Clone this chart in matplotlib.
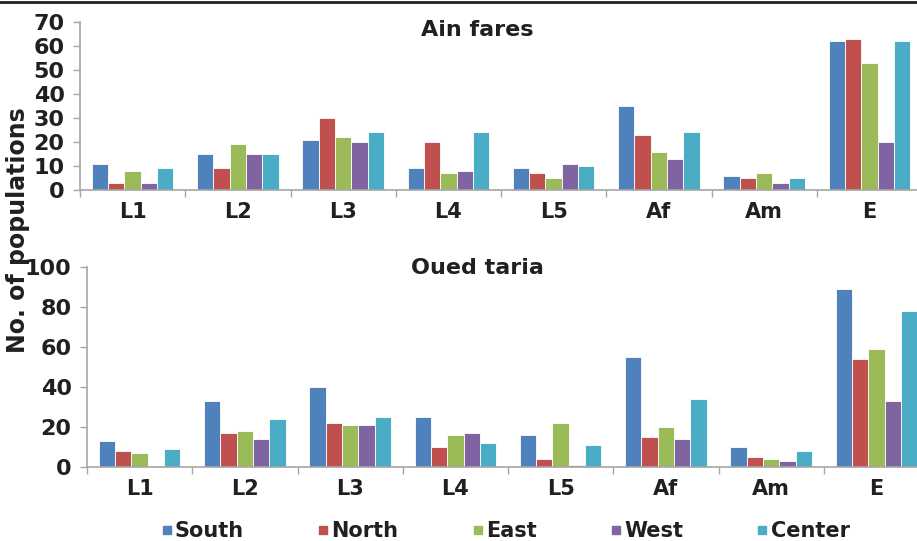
import numpy as np
import matplotlib.pyplot as plt
from matplotlib.lines import Line2D

plt.rcParams["font.family"] = ["DejaVu Sans"]
plt.rcParams["font.weight"] = "bold"

# ============================================================
# Data
# ============================================================
categories = ["L1", "L2", "L3", "L4", "L5", "Af", "Am", "E"]
regions = ["South", "North", "East", "West", "Center"]
colors = ["#4F81BD", "#C0504D", "#9BBB59", "#8064A2", "#4BACC6"]

# Ain fares
ain_south = [11, 15, 21, 9, 9, 35, 6, 62]
ain_north = [3, 9, 30, 20, 7, 23, 5, 63]
ain_east = [8, 19, 22, 7, 5, 16, 7, 53]
ain_west = [3, 15, 20, 8, 11, 13, 3, 20]
ain_center = [9, 15, 24, 24, 10, 24, 5, 62]

# Oued taria
oued_south = [13, 33, 40, 25, 16, 55, 10, 89]
oued_north = [8, 17, 22, 10, 4, 15, 5, 54]
oued_east = [7, 18, 21, 16, 22, 20, 4, 59]
oued_west = [0, 14, 21, 17, 1, 14, 3, 33]
oued_center = [9, 24, 25, 12, 11, 34, 8, 78]

TXT = "#231F20"
AXC = "#A6A6A6"

fig = plt.figure(figsize=(9.17, 5.41), dpi=100)

ax_top = fig.add_axes([80 / 917, 351 / 541, 842 / 917, 168 / 541])
ax_bot = fig.add_axes([87 / 917, 74.3 / 541, 842 / 917, 199.4 / 541])


def draw_panel(ax, series, ymax, step):
    x = np.arange(len(categories)) + 0.5
    w = 0.155
    for j, vals in enumerate(series):
        ax.bar(x + (j - 2) * w, vals, width=w, color=colors[j],
               edgecolor="white", linewidth=0.6, label=regions[j])
    ax.set_xlim(0, len(categories))
    ax.set_ylim(0, ymax)
    ax.set_yticks(np.arange(0, ymax + 1, step))
    ax.set_xticks(x)
    ax.set_xticklabels(categories)
    ax.set_xticks(np.arange(0, len(categories) + 1), minor=True)
    ax.tick_params(axis="x", which="major", length=0, pad=9,
                   labelsize=15, labelcolor=TXT)
    ax.tick_params(axis="x", which="minor", length=5, color=AXC, width=1)
    ax.tick_params(axis="y", length=5, color=AXC, width=1, pad=6,
                   labelsize=16, labelcolor=TXT)
    for s in ["top", "right"]:
        ax.spines[s].set_visible(False)
    for s in ["left", "bottom"]:
        ax.spines[s].set_color(AXC)
        ax.spines[s].set_linewidth(1.2)


draw_panel(ax_top, [ain_south, ain_north, ain_east, ain_west, ain_center], 70, 10)
draw_panel(ax_bot, [oued_south, oued_north, oued_east, oued_west, oued_center], 100, 20)

fig.text(477 / 917, 1 - 30 / 541, "Ain fares", ha="center", va="center",
         fontsize=16, color=TXT)
fig.text(477 / 917, 1 - 268 / 541, "Oued taria", ha="center", va="center",
         fontsize=16, color=TXT)
fig.text(18 / 917, 1 - 230 / 541, "No. of populations", rotation=90,
         ha="center", va="center", fontsize=17, color=TXT)

# top rule
fig.add_artist(Line2D([0, 1], [0.997, 0.997], transform=fig.transFigure,
                      color=TXT, linewidth=2))

leg_handles = [Line2D([], [], marker="s", linestyle="none", markersize=6,
                      markerfacecolor=c, markeredgecolor=c) for c in colors]
fig.legend(leg_handles, regions, loc="lower center", ncol=5,
           bbox_to_anchor=(505 / 917, 0.0), frameon=False,
           fontsize=15, handletextpad=0.1, columnspacing=3.5,
           borderpad=0, borderaxespad=0, handlelength=0.6,
           labelcolor=TXT)

plt.savefig("out.png", dpi=100)
